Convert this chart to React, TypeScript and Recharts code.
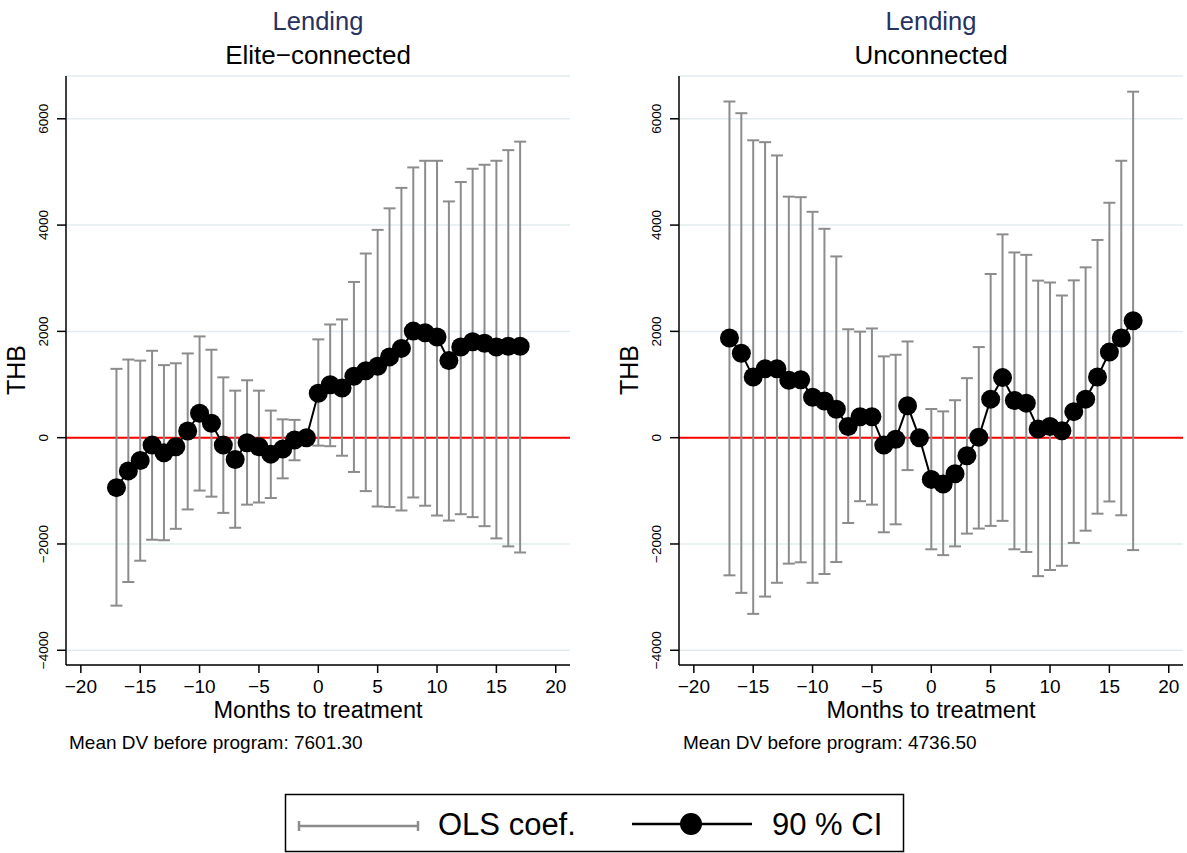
import {
  ComposedChart,
  Line,
  ErrorBar,
  XAxis,
  YAxis,
  CartesianGrid,
  ReferenceLine,
} from "recharts";

const months = [
  -17, -16, -15, -14, -13, -12, -11, -10, -9, -8, -7, -6, -5, -4, -3, -2, -1,
  0, 1, 2, 3, 4, 5, 6, 7, 8, 9, 10, 11, 12, 13, 14, 15, 16, 17,
];

// Elite-connected panel
const eliteCoef = [
  -940, -625, -430, -140, -285, -170, 125, 460, 270, -140, -410, -95, -170,
  -310, -215, -45, 0, 835, 995, 935, 1155, 1260, 1345, 1520, 1680, 2005, 1975,
  1895, 1450, 1705, 1805, 1775, 1705, 1720, 1720,
];
const eliteLow = [
  -3160, -2715, -2315, -1920, -1930, -1715, -1350, -995, -1110, -1415, -1695,
  -1260, -1220, -1135, -765, -425, 0, -150, -160, -340, -645, -1005, -1295,
  -1305, -1370, -1125, -1280, -1465, -1560, -1440, -1495, -1665, -1895, -2045,
  -2160,
];
const eliteHigh = [
  1295, 1470, 1450, 1635, 1365, 1400, 1585, 1905, 1655, 1135, 885, 1080, 885,
  510, 345, 335, 0, 1850, 2130, 2225, 2930, 3465, 3910, 4315, 4700, 5085, 5210,
  5210, 4445, 4810, 5060, 5135, 5210, 5410, 5570,
];

// Unconnected panel
const unconCoef = [
  1875, 1590, 1140, 1295, 1295, 1080, 1090, 760, 690, 535, 210, 395, 395, -140,
  -30, 600, 0, -785, -870, -680, -340, 10, 725, 1130, 700, 650, 165, 210, 130,
  490, 725, 1140, 1610, 1875, 2200,
];
const unconLow = [
  -2590, -2920, -3315, -2990, -2730, -2370, -2345, -2730, -2565, -2340, -1605,
  -1195, -1260, -1780, -1630, -610, 0, -2100, -2210, -2045, -1805, -1710,
  -1660, -1565, -2100, -2150, -2605, -2490, -2410, -1980, -1750, -1430, -1200,
  -1460, -2115,
];
const unconHigh = [
  6325, 6105, 5595, 5560, 5310, 4535, 4525, 4250, 3930, 3410, 2040, 1995, 2055,
  1530, 1560, 1810, 0, 540, 495, 705, 1120, 1705, 3080, 3825, 3485, 3440, 2955,
  2920, 2675, 2960, 3205, 3720, 4420, 5210, 6510,
];

const xTicks = [-20, -15, -10, -5, 0, 5, 10, 15, 20];
const yTicks = [-4000, -2000, 0, 2000, 4000, 6000];

const FONT = '"Liberation Sans", Arial, Helvetica, sans-serif';
const CI_GRAY = "#8c8c8c";

const fmt = (v: number) => (v < 0 ? `\u2212${Math.abs(v)}` : `${v}`);

function YTick(props: any) {
  const { x, y, payload } = props;
  return (
    <text
      x={x}
      y={y}
      transform={`rotate(-90 ${x} ${y})`}
      textAnchor="middle"
      fontSize={13.5}
      fill="#000"
      fontFamily={FONT}
    >
      {fmt(payload.value)}
    </text>
  );
}

function Panel({
  coef,
  low,
  high,
  left,
  width,
  right,
}: {
  coef: number[];
  low: number[];
  high: number[];
  left: number;
  width: number;
  right: number;
}) {
  const rows = months.map((m, i) => ({
    m,
    coef: coef[i],
    err: [coef[i] - low[i], high[i] - coef[i]],
  }));

  return (
    <div style={{ position: "absolute", left, top: 0 }}>
      <ComposedChart
        width={width}
        height={720}
        data={rows}
        margin={{ top: 76, right, bottom: 20, left: 0 }}
      >
        <CartesianGrid vertical={false} stroke="#e3ecef" strokeWidth={1.5} />
        <XAxis
          type="number"
          dataKey="m"
          domain={[-21.25, 21.2]}
          ticks={xTicks}
          allowDataOverflow
          height={35}
          tickSize={8}
          tickMargin={7}
          tickFormatter={fmt}
          tick={{ fontSize: 19, fill: "#000", fontFamily: FONT }}
          axisLine={{ stroke: "#000", strokeWidth: 1.5 }}
          tickLine={{ stroke: "#000", strokeWidth: 1.5 }}
        />
        <YAxis
          type="number"
          domain={[-4277, 6805]}
          ticks={yTicks}
          allowDataOverflow
          width={66}
          tickSize={9}
          tickMargin={9}
          tick={<YTick />}
          axisLine={{ stroke: "#000", strokeWidth: 1.5 }}
          tickLine={{ stroke: "#000", strokeWidth: 1.5 }}
        />
        <ReferenceLine y={0} stroke="#ff0000" strokeWidth={2} />
        <Line
          dataKey="coef"
          type="linear"
          stroke="#000"
          strokeWidth={2}
          dot={{ r: 9.5, fill: "#000", stroke: "#000", strokeWidth: 0 }}
          isAnimationActive={false}
        >
          <ErrorBar
            dataKey="err"
            direction="y"
            width={6}
            stroke={CI_GRAY}
            strokeWidth={2}
            isAnimationActive={false}
          />
        </Line>
      </ComposedChart>
    </div>
  );
}

export default function App() {
  return (
    <div
      style={{
        position: "absolute",
        left: 0,
        top: 0,
        width: 1187,
        height: 853,
        overflow: "hidden",
        background: "#fff",
        fontFamily: FONT,
      }}
    >
      <Panel coef={eliteCoef} low={eliteLow} high={eliteHigh} left={0} width={600} right={30} />
      <Panel coef={unconCoef} low={unconLow} high={unconHigh} left={613} width={574} right={4} />

      <svg
        width={1187}
        height={853}
        style={{ position: "absolute", left: 0, top: 0, pointerEvents: "none" }}
        fontFamily={FONT}
      >
        <text x={318} y={30} textAnchor="middle" fontSize={25.5} fill="#26325f">Lending</text>
        <text x={318} y={64} textAnchor="middle" fontSize={26} fill="#000">Elite{"\u2212"}connected</text>
        <text x={931} y={30} textAnchor="middle" fontSize={25.5} fill="#26325f">Lending</text>
        <text x={931} y={64} textAnchor="middle" fontSize={26} fill="#000">Unconnected</text>

        <text x={25} y={370} transform="rotate(-90 25 370)" textAnchor="middle" fontSize={25} fill="#000">THB</text>
        <text x={638} y={370} transform="rotate(-90 638 370)" textAnchor="middle" fontSize={25} fill="#000">THB</text>

        <text x={318} y={718} textAnchor="middle" fontSize={23.5} fill="#000">Months to treatment</text>
        <text x={931} y={718} textAnchor="middle" fontSize={23.5} fill="#000">Months to treatment</text>

        <text x={69} y={749} fontSize={19} fill="#000">Mean DV before program: 7601.30</text>
        <text x={683} y={749} fontSize={19} fill="#000">Mean DV before program: 4736.50</text>

        {/* legend */}
        <rect x={285.5} y={794.5} width={618} height={57} fill="#fff" stroke="#000" strokeWidth={1.5} />
        <line x1={299} y1={826} x2={418} y2={826} stroke={CI_GRAY} strokeWidth={2.5} />
        <line x1={299} y1={821} x2={299} y2={831} stroke={CI_GRAY} strokeWidth={2.5} />
        <line x1={418} y1={821} x2={418} y2={831} stroke={CI_GRAY} strokeWidth={2.5} />
        <text x={438} y={835} fontSize={31} fill="#000">OLS coef.</text>
        <line x1={632} y1={824} x2={752} y2={824} stroke="#000" strokeWidth={2.5} />
        <circle cx={691} cy={824} r={11} fill="#000" />
        <text x={772} y={835} fontSize={31} fill="#000">90 % CI</text>
      </svg>
    </div>
  );
}
